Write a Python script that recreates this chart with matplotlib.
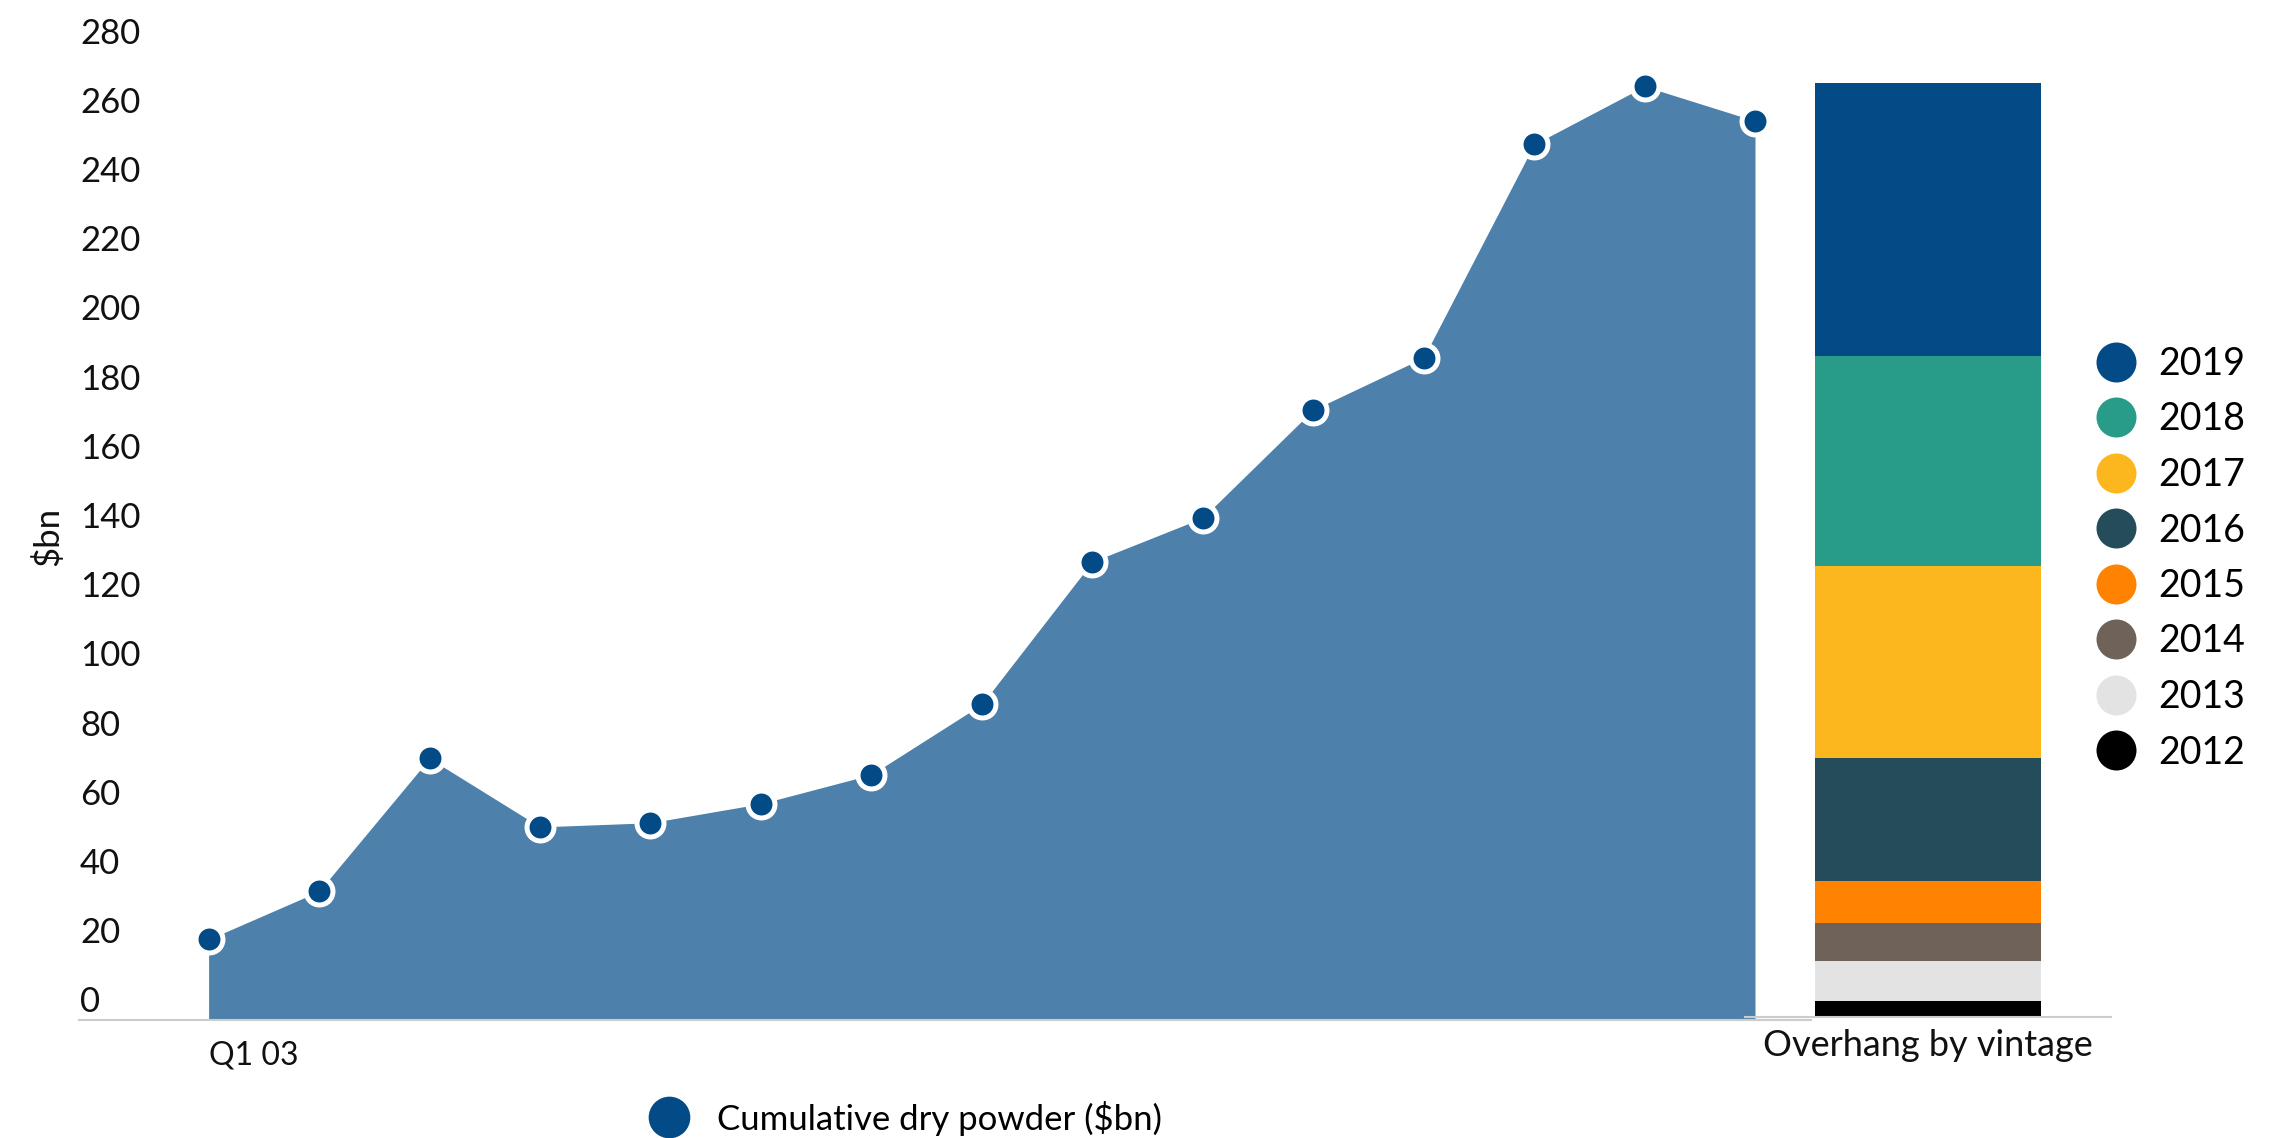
import matplotlib
matplotlib.use("Agg")
import matplotlib.pyplot as plt
from matplotlib.lines import Line2D
from matplotlib.transforms import ScaledTranslation, blended_transform_factory
import numpy as np

plt.rcParams['font.family'] = ['Lato', 'DejaVu Sans']

# ---------------- data ----------------
x_labels = ["Q1 03"]
dry_powder = [23.3, 37.2, 75.6, 55.8, 57.0, 62.5, 70.9, 91.2, 132.4, 145.1,
              176.3, 191.4, 253.0, 269.8, 259.8]
vintages = ["2012", "2013", "2014", "2015", "2016", "2017", "2018", "2019"]
overhang = [4.6, 11.6, 11.0, 12.2, 35.4, 55.6, 60.7, 78.7]
vintage_colors = ["#000000", "#e3e3e3", "#6f6259", "#ff8200",
                  "#244c5a", "#fdb71e", "#289b89", "#024b86"]
y_ticks = list(range(0, 281, 20))
y_tick_labels = [str(v) for v in y_ticks]
bar_label = "Overhang by vintage"
series_name = "Cumulative dry powder ($bn)"
y_title = "\\$bn"

AREA = "#4d80aa"
MARK = "#024b86"
AXIS = "#cccccc"

W, H = 2287, 1138
fig = plt.figure(figsize=(W / 100, H / 100), dpi=100)


def rect(l, t, r, b):
    return [l / W, 1 - b / H, (r - l) / W, (b - t) / H]


# ---------------- main area chart ----------------
ax = fig.add_axes(rect(79, 51, 1811, 1020))
x = np.arange(len(dry_powder))
step = (1755 - 208.6) / 14
ax.set_xlim((79 - 208.6) / step, (1811 - 208.6) / step)
ax.set_ylim(0, 280)
ax.fill_between(x, dry_powder, 0, color=AREA, lw=0, zorder=1)
ax.plot(x, dry_powder, ls='none', marker='o', ms=19.4, mfc=MARK, mec='white',
        mew=3.6, zorder=3, clip_on=False)

for s in ['left', 'right', 'top']:
    ax.spines[s].set_visible(False)
ax.spines['bottom'].set_color(AXIS)
ax.spines['bottom'].set_linewidth(1.5)
ax.set_yticks([])
ax.set_xticks([0])
ax.set_xticklabels(x_labels, ha='left', fontsize=23, color='#111111')
ax.tick_params(axis='x', length=0, pad=15)

ytr = blended_transform_factory(ax.transAxes, ax.transData) + \
    ScaledTranslation(0, 7.5 / 100, fig.dpi_scale_trans)
for v, lab in zip(y_ticks, y_tick_labels):
    ax.text(1 / 1732, v, lab, transform=ytr, ha='left', va='baseline',
            fontsize=25, color='#111111')

fig.text(48 / W, 1 - 536 / H, y_title, rotation=90, ha='center', va='center',
         fontsize=25, color='#111111')

# ---------------- overhang stacked bar ----------------
ax2 = fig.add_axes(rect(1745, 48, 2111, 1017))
ax2.patch.set_visible(False)
ax2.set_xlim(-0.5, 0.5)
ax2.set_ylim(0, 280)
bottom = 0
for val, col in zip(overhang, vintage_colors):
    ax2.bar([0], [val], bottom=bottom, width=0.615, color=col, lw=0)
    bottom += val
for s in ['left', 'right', 'top']:
    ax2.spines[s].set_visible(False)
ax2.spines['bottom'].set_color(AXIS)
ax2.spines['bottom'].set_linewidth(1.5)
ax2.set_yticks([])
ax2.set_xticks([0])
ax2.set_xticklabels([bar_label], fontsize=26, color='#111111')
ax2.tick_params(axis='x', length=0, pad=9)

# ---------------- legends ----------------
vh = [Line2D([], [], ls='none', marker='o', ms=28.8, mfc=c, mec='none')
      for c in reversed(vintage_colors)]
fig.legend(vh, list(reversed(vintages)), loc='upper left',
           bbox_to_anchor=(2095.7 / W, 1 - 346 / H), frameon=False,
           fontsize=27, handlelength=1.07, handletextpad=0.6,
           labelspacing=0.52, borderpad=0, borderaxespad=0)

ch = [Line2D([], [], ls='none', marker='o', ms=30, mfc=MARK, mec='none')]
fig.legend(ch, [series_name], loc='upper left',
           bbox_to_anchor=(648 / W, 1 - 1100.5 / H), frameon=False,
           fontsize=25, handlelength=1.21, handletextpad=0.77,
           borderpad=0, borderaxespad=0)

fig.savefig("out.png", dpi=100)
